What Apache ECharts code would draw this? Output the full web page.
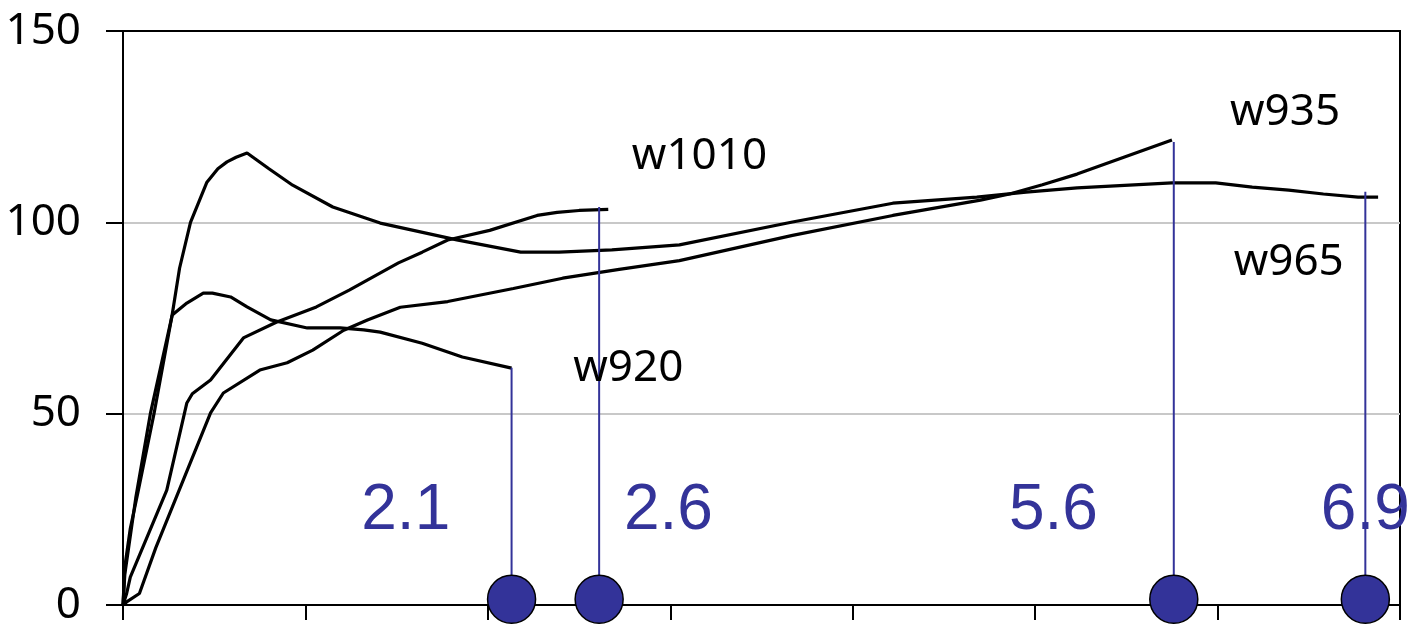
<!DOCTYPE html>
<html>
<head>
<meta charset="utf-8">
<script src="https://cdn.jsdelivr.net/npm/echarts@6/dist/echarts.min.js"></script>
<style>
html,body{margin:0;padding:0;background:#fff;}
#chart{width:1412px;height:627px;}
</style>
</head>
<body>
<div id="chart"></div>
<script>
// ---- data ----
const yTicks = [0, 50, 100, 150];
const seriesNames = ['w920', 'w1010', 'w935', 'w965'];
const w920 = [[0,0],[0.01,8],[0.07,28],[0.15,50],[0.27,75.8],[0.35,78.9],[0.44,81.5],[0.49,81.5],[0.59,80.5],[0.68,77.9],[0.81,74.5],[1.01,72.4],[1.19,72.4],[1.32,71.9],[1.41,71.3],[1.64,68.4],[1.86,64.8],[2.13,61.9]];
const w1010 = [[0,0],[0.02,3],[0.04,7.3],[0.24,30],[0.35,52.8],[0.38,55.2],[0.48,58.8],[0.66,69.8],[0.84,73.9],[1.06,77.9],[1.24,82.3],[1.51,89.4],[1.64,92.2],[1.78,95.4],[2.01,97.9],[2.27,101.8],[2.38,102.6],[2.5,103.1],[2.66,103.4]];
const w935 = [[0,0],[0.02,0.8],[0.09,3],[0.18,15],[0.48,50.2],[0.55,55.4],[0.75,61.4],[0.9,63.3],[1.04,66.6],[1.21,71.8],[1.34,74.5],[1.52,77.8],[1.78,79.3],[2.14,82.7],[2.41,85.4],[2.72,87.7],[3.05,90],[3.67,96.6],[4.22,101.8],[4.7,105.8],[4.86,107.4],[5.04,109.8],[5.23,112.6],[5.75,121.5]];
const w965 = [[0,0],[0.01,10],[0.04,20],[0.08,29],[0.17,50],[0.27,76],[0.31,88],[0.37,100],[0.46,110.5],[0.52,114],[0.57,115.8],[0.62,117],[0.68,118.1],[0.8,114],[0.93,109.7],[1.15,104],[1.41,99.8],[1.83,95.4],[2.18,92.2],[2.39,92.2],[2.68,92.8],[3.05,94.1],[3.67,100.1],[4.22,105],[4.68,106.6],[4.95,107.9],[5.23,109],[5.75,110.3],[5.99,110.3],[6.19,109.2],[6.39,108.4],[6.58,107.4],[6.77,106.6],[6.88,106.6]];
// end markers (vertical drop lines + circles)
const endX = [2.13, 2.61, 5.76, 6.81];
const endY = [62, 104, 121, 108];
const endLabels = ['2.1', '2.6', '5.6', '6.9'];
// annotation anchors (data coordinates)
const endLabelX = [1.55, 2.99, 5.10, 6.81];
const endLabelY = [24.6, 24.6, 24.6, 24.6];
const nameLabelX = [2.77, 3.16, 6.37, 6.39];
const nameLabelY = [61.7, 117.3, 128.8, 89.6];

// ---- chart ----
const chart = echarts.init(document.getElementById('chart'), null, {renderer: 'canvas'});
const curves = [w920, w1010, w935, w965];
const BLUE = '#333399';

const series = [];
curves.forEach((d, i) => {
  series.push({
    type: 'line', name: seriesNames[i], data: d, showSymbol: false, symbol: 'none',
    lineStyle: {color: '#000', width: 3.2, opacity: 1}, z: 3, animation: false
  });
});
endX.forEach((x, i) => {
  series.push({
    type: 'line', data: [[x, endY[i]], [x, 0]], showSymbol: false, symbol: 'none',
    lineStyle: {color: BLUE, width: 2, opacity: 1}, z: 4, animation: false
  });
});
series.push({
  type: 'scatter', data: endX.map(x => [x, 1.5]), symbol: 'circle', symbolSize: 48,
  itemStyle: {color: BLUE, borderColor: '#000', borderWidth: 1.5, opacity: 1}, z: 6, clip: false, animation: false
});
series.push({
  type: 'scatter', data: endLabelX.map((x, i) => ({value: [x, endLabelY[i]], label: {formatter: endLabels[i]}})),
  symbolSize: 0, z: 7, clip: false, animation: false, itemStyle: {opacity: 1},
  label: {show: true, position: 'inside', color: BLUE, opacity: 1, fontSize: 64, fontFamily: 'Liberation Sans'}
});
series.push({
  type: 'scatter', data: nameLabelX.map((x, i) => ({value: [x, nameLabelY[i]], label: {formatter: seriesNames[i]}})),
  symbolSize: 0, z: 7, clip: false, animation: false, itemStyle: {opacity: 1},
  label: {show: true, position: 'inside', color: '#000', opacity: 1, fontSize: 44, fontFamily: 'Noto Sans'}
});

chart.setOption({
  animation: false,
  backgroundColor: '#fff',
  grid: {left: 123, right: 12, top: 31, bottom: 22, show: true, borderColor: '#000', borderWidth: 2, backgroundColor: 'transparent'},
  xAxis: {
    type: 'value', min: 0, max: 7, interval: 1,
    axisLine: {show: true, lineStyle: {color: '#000', width: 2}},
    axisTick: {show: true, length: 15, inside: false, lineStyle: {color: '#000', width: 2}},
    axisLabel: {show: false},
    splitLine: {show: false}
  },
  yAxis: {
    type: 'value', min: yTicks[0], max: yTicks[yTicks.length - 1], interval: 50,
    axisLine: {show: true, lineStyle: {color: '#000', width: 2}},
    axisTick: {show: true, length: 17, inside: false, lineStyle: {color: '#000', width: 2}},
    axisLabel: {show: true, color: '#000', fontSize: 44, fontFamily: 'Noto Sans', margin: 42},
    splitLine: {show: true, showMinLine: false, showMaxLine: false, lineStyle: {color: '#c8c8c8', width: 2}}
  },
  series: series
});
</script>
</body>
</html>
